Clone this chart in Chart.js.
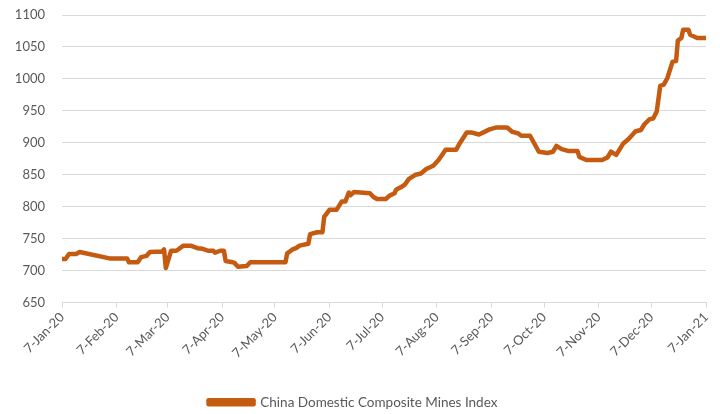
<!DOCTYPE html>
<html>
<head>
<meta charset="utf-8">
<script src="https://cdn.jsdelivr.net/npm/chart.js@4.4.1/dist/chart.umd.min.js"></script>
<style>
  html, body { margin: 0; padding: 0; background: #ffffff; }
  #wrap { width: 720px; height: 414px; position: relative; }
</style>
</head>
<body>
<div id="wrap"><canvas id="c" width="720" height="414"></canvas></div>
<script>
const seriesName = "China Domestic Composite Mines Index";
const dates = [
  "2020-01-07","2020-01-09","2020-01-11","2020-01-15","2020-01-17","2020-02-03","2020-02-13","2020-02-14",
  "2020-02-19","2020-02-21","2020-02-24","2020-02-26","2020-03-04","2020-03-05","2020-03-06","2020-03-09",
  "2020-03-12","2020-03-16","2020-03-20","2020-03-24","2020-03-27","2020-03-30","2020-04-02","2020-04-03",
  "2020-04-06","2020-04-08","2020-04-09","2020-04-13","2020-04-14","2020-04-16","2020-04-21","2020-04-23",
  "2020-05-13","2020-05-14","2020-05-17","2020-05-19","2020-05-21","2020-05-26","2020-05-27","2020-05-31",
  "2020-06-03","2020-06-04","2020-06-07","2020-06-11","2020-06-14","2020-06-16","2020-06-18","2020-06-19",
  "2020-06-21","2020-06-30","2020-07-02","2020-07-04","2020-07-09","2020-07-11","2020-07-14","2020-07-15",
  "2020-07-18","2020-07-20","2020-07-22","2020-07-26","2020-07-29","2020-08-01","2020-08-05","2020-08-08",
  "2020-08-10","2020-08-12","2020-08-18","2020-08-20","2020-08-24","2020-08-27","2020-08-31","2020-09-06",
  "2020-09-10","2020-09-16","2020-09-19","2020-09-22","2020-09-24","2020-09-29","2020-10-04","2020-10-09",
  "2020-10-12","2020-10-14","2020-10-17","2020-10-21","2020-10-26","2020-10-27","2020-10-31","2020-11-09",
  "2020-11-12","2020-11-14","2020-11-17","2020-11-21","2020-11-24","2020-11-28","2020-12-01","2020-12-03",
  "2020-12-06","2020-12-08","2020-12-10","2020-12-12","2020-12-14","2020-12-16","2020-12-19","2020-12-21",
  "2020-12-22","2020-12-24","2020-12-25","2020-12-28","2020-12-29","2021-01-02","2021-01-07"
];
const values = [
  718,718,726,726,729,719,719,713,
  713,721,723,729,730,733,704,731,
  731,739,739,735,734,731,731,728,
  731,731,715,713,712,706,707,713,
  713,727,733,735,739,742,757,760,
  760,784,795,795,808,808,822,818,
  823,821,815,812,812,817,821,827,
  831,835,843,850,852,859,864,873,
  881,889,889,899,916,916,913,921,
  924,924,917,915,911,911,886,884,
  886,895,890,887,887,878,873,873,
  877,886,881,899,906,918,920,929,
  937,938,949,989,991,1001,1027,1028,
  1060,1064,1077,1077,1069,1064,1064
];
const tickDates = ["2020-01-07","2020-02-07","2020-03-07","2020-04-07","2020-05-07","2020-06-07","2020-07-07",
  "2020-08-07","2020-09-07","2020-10-07","2020-11-07","2020-12-07","2021-01-07"];
const tickLabels = ["7-Jan-20","7-Feb-20","7-Mar-20","7-Apr-20","7-May-20","7-Jun-20","7-Jul-20",
  "7-Aug-20","7-Sep-20","7-Oct-20","7-Nov-20","7-Dec-20","7-Jan-21"];
const yMin = 650, yMax = 1100, yStep = 50;

const base = Date.UTC(2020, 0, 7);
function dayOffset(s) {
  const p = s.split("-").map(Number);
  return Math.round((Date.UTC(p[0], p[1] - 1, p[2]) - base) / 86400000);
}
const points = dates.map((d, i) => ({ x: dayOffset(d), y: values[i] }));
const tickPos = tickDates.map(dayOffset);
const labelAt = {};
tickPos.forEach((v, i) => { labelAt[v] = tickLabels[i]; });

const color = "#C55A11";
const txt = "#595959";
const grid = "#D9D9D9";
const fontFam = "Lato, 'Open Sans', sans-serif";

new Chart(document.getElementById("c"), {
  type: "line",
  data: {
    datasets: [{
      label: seriesName,
      data: points,
      borderColor: color,
      backgroundColor: color,
      borderWidth: 4.5,
      pointRadius: 0,
      tension: 0,
      borderJoinStyle: "round",
      borderCapStyle: "round"
    }]
  },
  options: {
    responsive: false,
    animation: false,
    layout: { padding: { left: 0, right: 14, top: 15, bottom: -5 } },
    plugins: {
      legend: {
        position: "bottom",
        labels: {
          boxWidth: 45, boxHeight: 4, color: txt,
          font: { family: fontFam, size: 13.5 }, padding: 3
        }
      },
      tooltip: { enabled: false }
    },
    scales: {
      x: {
        type: "linear",
        min: tickPos[0], max: tickPos[tickPos.length - 1],
        afterBuildTicks: (s) => { s.ticks = tickPos.map(v => ({ value: v })); },
        afterFit: (s) => { s.height = 90; },
        ticks: {
          autoSkip: false, maxRotation: 45, minRotation: 45,
          color: txt, font: { family: fontFam, size: 13 }, padding: 2,
          callback: (v) => labelAt[v] || ""
        },
        grid: { drawOnChartArea: false, drawTicks: true, tickLength: 5, color: grid },
        border: { display: true, color: grid }
      },
      y: {
        min: yMin, max: yMax,
        afterBuildTicks: (s) => {
          const t = [];
          for (let v = yMin; v <= yMax; v += yStep) t.push({ value: v });
          s.ticks = t;
        },
        afterFit: (s) => { s.width = 62; s.paddingTop = 0; s.paddingBottom = 0; },
        ticks: { color: txt, font: { family: fontFam, size: 13 }, padding: 17,
          callback: (v) => String(v) },
        grid: { color: grid, drawTicks: false, lineWidth: 1 },
        border: { display: false }
      }
    }
  }
});
</script>
</body>
</html>
